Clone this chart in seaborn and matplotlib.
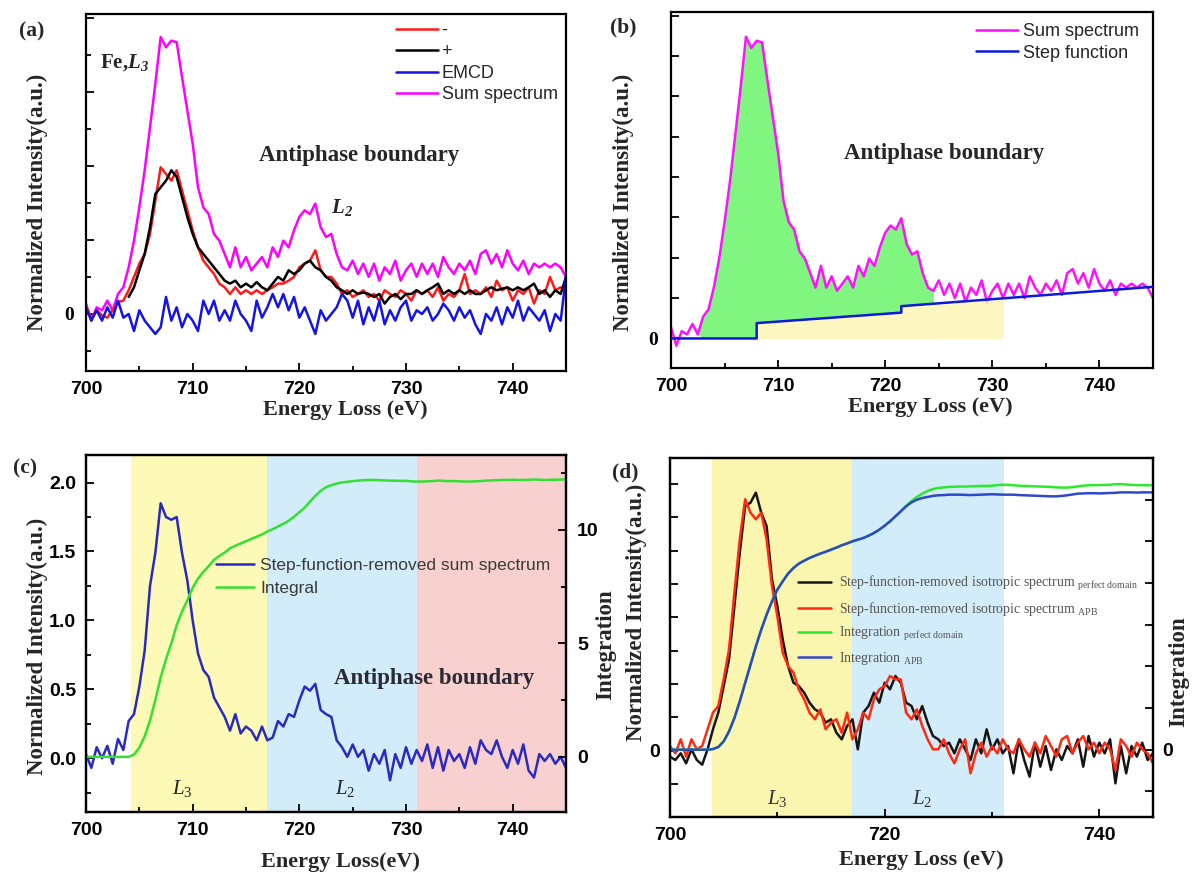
import numpy as np
import matplotlib
matplotlib.use("Agg")
import matplotlib.pyplot as plt
import seaborn as sns
from matplotlib.ticker import MultipleLocator, FuncFormatter
from matplotlib.patches import Rectangle

# ---------------- data ----------------
energy = np.arange(700.0, 745.01, 0.5)

# (a) spectra, normalized intensity (a.u.)
sum_spectrum = [0.14, -0.09, 0.09, 0.05, 0.18, 0.05, 0.27, 0.36, 0.63, 0.99,
                1.44, 1.94, 2.52, 3.11, 3.74, 3.60, 3.69, 3.67, 3.20, 2.75,
                2.30, 1.71, 1.44, 1.35, 1.08, 0.99, 0.81, 0.63, 0.90, 0.63,
                0.77, 0.59, 0.68, 0.77, 0.63, 0.90, 0.77, 0.99, 0.90, 1.13,
                1.31, 1.40, 1.35, 1.49, 1.17, 1.04, 1.08, 0.81, 0.63, 0.59,
                0.72, 0.54, 0.68, 0.50, 0.68, 0.45, 0.63, 0.54, 0.72, 0.45,
                0.59, 0.68, 0.50, 0.68, 0.54, 0.68, 0.50, 0.77, 0.63, 0.54,
                0.68, 0.59, 0.72, 0.54, 0.81, 0.86, 0.68, 0.81, 0.63, 0.86,
                0.68, 0.59, 0.72, 0.54, 0.68, 0.63, 0.68, 0.63, 0.68, 0.63,
                0.50]
minus_spectrum = [0.09, -0.05, 0.05, -0.02, -0.05, 0.05, 0.16, 0.18, 0.32, 0.50,
                  0.68, 0.81, 1.08, 1.53, 1.98, 1.89, 1.80, 1.94, 1.67, 1.40,
                  1.13, 0.90, 0.72, 0.63, 0.54, 0.41, 0.36, 0.27, 0.36, 0.27,
                  0.32, 0.27, 0.32, 0.27, 0.32, 0.36, 0.41, 0.41, 0.45, 0.50,
                  0.63, 0.68, 0.72, 0.86, 0.59, 0.50, 0.50, 0.41, 0.27, 0.32,
                  0.23, 0.27, 0.32, 0.23, 0.27, 0.18, 0.32, 0.27, 0.23, 0.32,
                  0.27, 0.18, 0.32, 0.27, 0.32, 0.23, 0.36, 0.18, 0.27, 0.23,
                  0.32, 0.54, 0.27, 0.32, 0.27, 0.36, 0.23, 0.45, 0.32, 0.36,
                  0.18, 0.32, 0.27, 0.36, 0.14, 0.32, 0.27, 0.50, 0.32, 0.36,
                  0.27]
plus_spectrum = [np.nan, np.nan, np.nan, np.nan, np.nan, np.nan, np.nan, np.nan, 0.23, 0.36,
                 0.59, 0.81, 1.17, 1.62, 1.71, 1.80, 1.94, 1.85, 1.58, 1.31,
                 1.08, 0.90, 0.81, 0.72, 0.63, 0.54, 0.45, 0.41, 0.45, 0.36,
                 0.41, 0.36, 0.43, 0.36, 0.32, 0.41, 0.50, 0.45, 0.59, 0.54,
                 0.59, 0.68, 0.72, 0.63, 0.59, 0.50, 0.45, 0.36, 0.32, 0.27,
                 0.32, 0.27, 0.29, 0.27, 0.23, 0.27, 0.14, 0.23, 0.27, 0.20,
                 0.27, 0.27, 0.32, 0.27, 0.32, 0.36, 0.41, 0.27, 0.32, 0.27,
                 0.32, 0.27, 0.32, 0.27, 0.27, 0.32, 0.36, 0.32, 0.34, 0.36,
                 0.32, 0.36, 0.32, 0.36, 0.41, 0.27, 0.32, 0.23, 0.32, 0.27,
                 0.50]
emcd_spectrum = [0.09, -0.09, 0.05, -0.09, 0.09, -0.05, 0.18, -0.05, 0.00, -0.23,
                 0.05, -0.09, -0.18, -0.27, -0.18, 0.23, -0.09, 0.09, -0.18, 0.00,
                 -0.09, -0.23, 0.18, 0.00, 0.18, -0.09, 0.05, -0.09, 0.18, 0.00,
                 -0.09, -0.23, 0.18, -0.05, 0.09, 0.27, 0.09, 0.27, 0.05, 0.23,
                 -0.05, 0.09, -0.09, -0.27, 0.05, -0.09, 0.00, 0.09, 0.27, 0.18,
                 -0.05, 0.18, -0.14, 0.09, -0.09, 0.18, -0.14, 0.05, -0.09, 0.09,
                 0.18, -0.09, 0.05, 0.00, 0.09, -0.09, 0.00, 0.14, 0.05, -0.09,
                 0.09, -0.05, 0.05, -0.14, -0.27, 0.00, -0.09, 0.09, -0.14, 0.09,
                 -0.05, 0.18, -0.09, 0.09, 0.00, -0.09, 0.05, -0.23, 0.00, -0.09,
                 0.50]

# (b) step function (breakpoints)
step_energy = [700.0, 708.0, 708.0, 721.5, 721.5, 745.0]
step_values = [0.0, 0.0, 0.19, 0.32, 0.40, 0.64]

# (c) step-function-removed sum spectrum and its integral
removed_spectrum = [0.03, -0.07, 0.08, 0.00, 0.09, -0.04, 0.14, 0.06, 0.27, 0.32,
                    0.52, 0.78, 1.25, 1.49, 1.85, 1.75, 1.73, 1.75, 1.49, 1.29,
                    1.00, 0.76, 0.64, 0.59, 0.44, 0.37, 0.30, 0.20, 0.32, 0.18,
                    0.23, 0.20, 0.13, 0.23, 0.13, 0.15, 0.27, 0.23, 0.32, 0.30,
                    0.42, 0.52, 0.49, 0.54, 0.35, 0.32, 0.30, 0.13, 0.08, 0.01,
                    0.10, 0.01, 0.06, -0.09, 0.03, -0.04, 0.06, -0.16, 0.03, -0.07,
                    0.08, -0.04, 0.06, -0.02, 0.10, -0.07, 0.08, -0.09, 0.06, -0.02,
                    0.03, -0.07, 0.08, -0.04, 0.13, 0.06, 0.03, 0.13, 0.01, -0.07,
                    0.06, -0.04, 0.10, -0.09, -0.14, 0.03, -0.02, 0.03, -0.04, 0.01,
                    -0.07]
integral_c = [0, 0, 0, 0, 0, 0, 0, 0, 0, 0.1,
              0.4, 0.9, 1.6, 2.5, 3.5, 4.3, 5.0, 5.8, 6.4, 6.9,
              7.45, 7.85, 8.15, 8.4, 8.68, 8.85, 9.0, 9.19, 9.3, 9.4,
              9.5, 9.6, 9.7, 9.8, 9.93, 10.03, 10.15, 10.27, 10.4, 10.58,
              10.78, 10.98, 11.25, 11.5, 11.72, 11.88, 11.97, 12.04, 12.09, 12.12,
              12.15, 12.17, 12.19, 12.2, 12.2, 12.19, 12.18, 12.17, 12.17, 12.16,
              12.16, 12.14, 12.13, 12.13, 12.14, 12.15, 12.17, 12.16, 12.15, 12.15,
              12.14, 12.13, 12.13, 12.14, 12.15, 12.17, 12.18, 12.19, 12.2, 12.2,
              12.21, 12.2, 12.2, 12.21, 12.22, 12.21, 12.2, 12.21, 12.21, 12.22,
              12.22]

# (d) perfect domain vs APB
iso_perfect = [-0.09, -0.14, -0.04, -0.19, 0.02, -0.14, -0.21, 0.02, 0.32, 0.57,
               0.97, 1.37, 2.17, 2.97, 3.67, 3.72, 3.87, 3.57, 3.37, 2.57,
               2.17, 1.67, 1.27, 1.02, 0.97, 0.87, 0.72, 0.62, 0.57, 0.42,
               0.47, 0.27, 0.17, 0.37, 0.47, 0.02, 0.57, 0.67, 0.87, 0.72,
               1.02, 0.92, 1.12, 1.02, 0.72, 0.67, 0.47, 0.67, 0.42, 0.22,
               0.17, 0.07, 0.12, -0.04, 0.17, 0.02, -0.14, 0.17, -0.04, 0.32,
               0.02, 0.17, -0.04, 0.07, -0.34, 0.17, -0.14, -0.39, 0.12, -0.24,
               0.07, -0.29, 0.02, -0.14, 0.07, -0.04, 0.17, -0.24, 0.22, -0.09,
               0.12, -0.04, 0.17, -0.49, 0.07, -0.34, 0.07, -0.09, 0.12, -0.14,
               -0.04]
iso_apb = [0.07, -0.04, 0.17, -0.09, 0.17, 0.02, 0.07, 0.32, 0.57, 0.67,
           1.07, 1.52, 2.37, 3.17, 3.77, 3.57, 3.47, 3.57, 3.17, 2.47,
           2.02, 1.47, 1.27, 1.17, 0.92, 0.77, 0.57, 0.47, 0.62, 0.32,
           0.42, 0.47, 0.27, 0.57, 0.17, 0.32, 0.57, 0.47, 0.77, 0.92,
           0.97, 1.12, 1.07, 1.07, 0.57, 0.47, 0.62, 0.37, 0.17, 0.02,
           0.02, 0.17, -0.04, -0.19, 0.02, 0.17, -0.34, -0.04, 0.12, -0.09,
           0.07, -0.04, 0.17, 0.02, -0.04, 0.17, 0.02, -0.09, 0.12, -0.04,
           0.22, 0.07, -0.09, 0.17, 0.22, -0.04, 0.12, 0.22, 0.02, 0.12,
           -0.04, 0.12, 0.02, -0.29, 0.17, 0.07, -0.09, 0.12, 0.02, -0.04,
           -0.19]
integ_apb = [0, 0, 0, 0, 0, 0, 0, 0, 0.03, 0.13,
             0.40, 0.88, 1.52, 2.32, 3.20, 4.08, 4.96, 5.76, 6.48, 7.12,
             7.68, 8.08, 8.45, 8.72, 8.93, 9.07, 9.20, 9.31, 9.41, 9.50,
             9.60, 9.70, 9.81, 9.90, 10.00, 10.08, 10.16, 10.27, 10.40, 10.56,
             10.75, 10.96, 11.20, 11.44, 11.68, 11.87, 12.00, 12.08, 12.13, 12.18,
             12.21, 12.22, 12.24, 12.24, 12.24, 12.23, 12.22, 12.23, 12.24, 12.25,
             12.26, 12.25, 12.24, 12.24, 12.24, 12.22, 12.21, 12.20, 12.19, 12.18,
             12.17, 12.16, 12.16, 12.18, 12.21, 12.25, 12.29, 12.30, 12.31, 12.31,
             12.30, 12.31, 12.32, 12.33, 12.35, 12.35, 12.35, 12.34, 12.35, 12.35,
             12.35]
integ_perfect = [0, 0, 0, 0, 0, 0, 0, 0, 0.03, 0.13,
                 0.40, 0.88, 1.52, 2.32, 3.20, 4.08, 4.96, 5.76, 6.48, 7.12,
                 7.68, 8.08, 8.45, 8.72, 8.93, 9.07, 9.20, 9.31, 9.41, 9.50,
                 9.60, 9.70, 9.81, 9.90, 10.00, 10.08, 10.16, 10.27, 10.40, 10.56,
                 10.75, 10.96, 11.20, 11.44, 11.71, 11.94, 12.13, 12.29, 12.42, 12.51,
                 12.56, 12.59, 12.61, 12.62, 12.63, 12.63, 12.64, 12.65, 12.66, 12.66,
                 12.67, 12.70, 12.72, 12.71, 12.69, 12.67, 12.66, 12.65, 12.64, 12.63,
                 12.62, 12.61, 12.59, 12.58, 12.58, 12.60, 12.64, 12.67, 12.69, 12.70,
                 12.70, 12.71, 12.72, 12.74, 12.75, 12.73, 12.71, 12.70, 12.70, 12.69,
                 12.69]

# energy windows used for the shading
l3_window_c = [704.2, 717.0]
l2_window_c = [717.0, 731.0]
tail_window_c = [731.0, 745.0]
l3_window_d = [703.9, 717.0]
l2_window_d = [717.0, 731.1]
green_window_b = [703.0, 724.5]
yellow_window_b = [708.0, 731.0]

# ---------------- style ----------------
sns.set_style("ticks")
plt.rcParams['font.family'] = ['Liberation Sans', 'DejaVu Sans']
plt.rcParams['font.weight'] = 'bold'
plt.rcParams['mathtext.fontset'] = 'custom'
plt.rcParams['mathtext.rm'] = 'Liberation Serif:normal'
plt.rcParams['mathtext.it'] = 'Liberation Serif:italic:normal'
plt.rcParams['mathtext.bf'] = 'Liberation Serif:bold'
plt.rcParams['mathtext.bfit'] = 'Liberation Serif:italic:bold'
SERIF = ['Liberation Serif', 'DejaVu Serif']
LW = 1.8

energy = np.asarray(energy)
sum_arr = np.asarray(sum_spectrum, dtype=float)

W, H = 1192, 872
fig = plt.figure(figsize=(W / 100, H / 100), dpi=100)


def rect(l, t, r, b):
    return [l / W, 1 - b / H, (r - l) / W, (b - t) / H]


ax_a = fig.add_axes(rect(86, 14, 566, 371))
ax_b = fig.add_axes(rect(671, 11.7, 1153, 368.3))
ax_c = fig.add_axes(rect(86, 455, 566, 812))
ax_d = fig.add_axes(rect(670, 458, 1153, 817))

zero_only = FuncFormatter(lambda v, p: '0' if abs(v) < 1e-9 else '')


def frame(ax, xmaj, xmin):
    for s in ax.spines.values():
        s.set_visible(True)
        s.set_linewidth(1.6)
        s.set_color('black')
    ax.set_xlim(700, 745)
    ax.xaxis.set_major_locator(MultipleLocator(xmaj))
    ax.xaxis.set_minor_locator(MultipleLocator(xmin))
    ax.tick_params(which='both', direction='in', width=1.3, colors='black')
    ax.tick_params(which='major', length=6, labelsize=14, pad=7)
    ax.tick_params(which='minor', length=3.5)


def line(ax, y, color, label=None, lw=LW, x=None, z=2):
    sns.lineplot(x=energy if x is None else x, y=y, ax=ax, color=color, lw=lw,
                 label=label, estimator=None, sort=False, zorder=z)


def ylab(ax, text, x, y, size=16.5):
    ax.set_ylabel(text, family=SERIF, fontweight='bold', fontsize=size)
    ax.yaxis.set_label_coords(x, y)


def xlab(ax, text, x, y):
    ax.set_xlabel(text, family=SERIF, fontweight='bold', fontsize=16)
    ax.xaxis.set_label_coords(x, y)


# ---------------- (a) ----------------
line(ax_a, sum_spectrum, '#FF00FF', 'Sum spectrum')
line(ax_a, minus_spectrum, '#FF1A1A', '-')
line(ax_a, plus_spectrum, '#000000', '+')
line(ax_a, emcd_spectrum, '#1414E6', 'EMCD')
frame(ax_a, 10, 5)
ax_a.set_ylim(-0.77, 4.05)
ax_a.yaxis.set_major_locator(MultipleLocator(1))
ax_a.yaxis.set_minor_locator(MultipleLocator(0.5))
ax_a.yaxis.set_major_formatter(zero_only)
ax_a.tick_params(axis='y', labelfontfamily='Liberation Serif', pad=9)
h, l = ax_a.get_legend_handles_labels()
order = [l.index(k) for k in ['-', '+', 'EMCD', 'Sum spectrum']]
ax_a.legend([h[i] for i in order], [l[i] for i in order], loc='upper left',
            bbox_to_anchor=(0.646, 0.978), frameon=False, borderpad=0, borderaxespad=0,
            handlelength=2.3, handletextpad=0.22, labelspacing=0.25,
            prop={'family': 'Liberation Sans', 'weight': 'normal', 'size': 13})
ax_a.text(701.3, 3.40, r'Fe,$\mathbfit{L}_{\mathbfit{3}}$', family=SERIF, fontweight='bold',
          fontsize=15, ha='left', va='center')
ax_a.text(725.6, 2.14, 'Antiphase boundary', family=SERIF, fontweight='bold', fontsize=16.5,
          ha='center', va='center')
ax_a.text(723.0, 1.44, r'$\mathbfit{L}_{\mathbfit{2}}$', fontsize=15, ha='left', va='center')
ylab(ax_a, 'Normalized Intensity(a.u.)', -0.079, 0.473)
xlab(ax_a, 'Energy Loss (eV)', 0.54, -0.08)

# ---------------- (b) ----------------
gmask = (energy >= green_window_b[0]) & (energy <= green_window_b[1]) & (sum_arr > 0)
ax_b.fill_between(energy, sum_arr, 0, where=gmask, interpolate=True, color='#80F580', lw=0, zorder=1)
yfill = ax_b.fill_between(step_energy, 0, step_values, color='#FFF7C2', lw=0, zorder=1.5)
yfill.set_clip_path(Rectangle((yellow_window_b[0], -5), yellow_window_b[1] - yellow_window_b[0], 20,
                              transform=ax_b.transData))
line(ax_b, sum_spectrum, '#FF10FF', 'Sum spectrum', z=2)
yfill2 = ax_b.fill_between(step_energy, 0, step_values, color='#FFF7C2', alpha=0.7, lw=0, zorder=2.5)
yfill2.set_clip_path(Rectangle((725.8, -5), yellow_window_b[1] - 725.8, 20, transform=ax_b.transData))
line(ax_b, step_values, '#0A1AD8', 'Step function', x=step_energy, z=3)
frame(ax_b, 10, 5)
ax_b.set_ylim(-0.37, 4.05)
ax_b.yaxis.set_major_locator(MultipleLocator(0.5))
ax_b.yaxis.set_major_formatter(zero_only)
ax_b.tick_params(axis='y', labelfontfamily='Liberation Serif', pad=9)
ax_b.legend(loc='upper left', bbox_to_anchor=(0.633, 0.968), frameon=False, borderpad=0,
            borderaxespad=0, handlelength=2.3, handletextpad=0.3, labelspacing=0.25,
            prop={'family': 'Liberation Sans', 'weight': 'normal', 'size': 13})
ax_b.text(725.5, 2.29, 'Antiphase boundary', family=SERIF, fontweight='bold', fontsize=16.5,
          ha='center', va='center')
ylab(ax_b, 'Normalized Intensity(a.u.)', -0.077, 0.466)
xlab(ax_b, 'Energy Loss (eV)', 0.537, -0.08)

# ---------------- (c) ----------------
ax_c.axvspan(*l3_window_c, color='#FDF9B6', lw=0, zorder=0)
ax_c.axvspan(*l2_window_c, color='#D3ECFA', lw=0, zorder=0)
ax_c.axvspan(*tail_window_c, color='#F9D0D0', lw=0, zorder=0)
line(ax_c, removed_spectrum, '#2A2AC0', 'Step-function-removed sum spectrum')
ax_c2 = ax_c.twinx()
line(ax_c2, integral_c, '#33E033', 'Integral')
frame(ax_c, 10, 5)
frame(ax_c2, 10, 5)
ax_c.set_ylim(-0.39, 2.2)
ax_c.yaxis.set_major_locator(MultipleLocator(0.5))
ax_c.yaxis.set_minor_locator(MultipleLocator(0.25))
ax_c.yaxis.set_major_formatter(FuncFormatter(lambda v, p: f'{v:.1f}'))
ax_c2.set_ylim(-2.43, 13.3)
ax_c2.yaxis.set_major_locator(MultipleLocator(5))
ax_c2.yaxis.set_minor_locator(MultipleLocator(2.5))
ax_c2.tick_params(axis='y', pad=8)
if ax_c.get_legend():
    ax_c.get_legend().remove()
h1, l1 = ax_c.get_legend_handles_labels()
h2, l2 = ax_c2.get_legend_handles_labels()
ax_c2.legend(h1 + h2, l1 + l2, loc='upper left', bbox_to_anchor=(0.271, 0.712), frameon=False,
             borderpad=0, borderaxespad=0, handlelength=2.2, handletextpad=0.35, labelspacing=0.45,
             prop={'family': 'Liberation Sans', 'weight': 'normal', 'size': 12.5}, labelcolor='#3a3a3a')
ax_c.text(732.6, 0.578, 'Antiphase boundary', family=SERIF, fontweight='bold', fontsize=16.5,
          ha='center', va='center', color='#2a2a35')
ax_c.text(709.0, -0.22, r'$\mathit{L}_{3}$', fontsize=15, fontweight='normal', ha='center',
          va='center', color='#222222')
ax_c.text(724.3, -0.22, r'$\mathit{L}_{2}$', fontsize=15, fontweight='normal', ha='center',
          va='center', color='#222222')
ylab(ax_c, 'Normalized Intensity(a.u.)', -0.079, 0.465)
xlab(ax_c, 'Energy Loss(eV)', 0.531, -0.112)
ax_c2.set_ylabel('Integration', family=SERIF, fontweight='bold', fontsize=16.5)
ax_c2.yaxis.set_label_coords(1.060, 0.468)
ax_c2.set_xlabel('')

# ---------------- (d) ----------------
ax_d.axvspan(*l3_window_d, color='#FAF6B0', lw=0, zorder=0)
ax_d.axvspan(*l2_window_d, color='#D3ECFA', lw=0, zorder=0)
line(ax_d, iso_perfect, '#151515', r'Step-function-removed isotropic spectrum $_{\mathrm{perfect\ domain}}$')
line(ax_d, iso_apb, '#FF2A10', r'Step-function-removed isotropic spectrum $_{\mathrm{APB}}$')
ax_d2 = ax_d.twinx()
line(ax_d2, integ_perfect, '#2EE82E', r'Integration $_{\mathrm{perfect\ domain}}$')
line(ax_d2, integ_apb, '#2F48C8', r'Integration $_{\mathrm{APB}}$')
frame(ax_d, 20, 10)
frame(ax_d2, 20, 10)
ax_d.set_ylim(-0.995, 4.39)
ax_d.yaxis.set_major_locator(MultipleLocator(0.5))
ax_d.yaxis.set_major_formatter(zero_only)
ax_d2.set_ylim(-3.23, 14.0)
ax_d2.yaxis.set_major_locator(MultipleLocator(2))
ax_d2.yaxis.set_major_formatter(zero_only)
if ax_d.get_legend():
    ax_d.get_legend().remove()
h1, l1 = ax_d.get_legend_handles_labels()
h2, l2 = ax_d2.get_legend_handles_labels()
ax_d2.legend(h1 + h2, l1 + l2, loc='upper left', bbox_to_anchor=(0.265, 0.677), frameon=False,
             borderpad=0, borderaxespad=0, handlelength=2.4, handletextpad=0.58, labelspacing=0.5,
             prop={'family': 'Liberation Serif', 'weight': 'normal', 'size': 10}, labelcolor='#555555')
ax_d.text(710.0, -0.71, r'$\mathit{L}_{3}$', fontsize=15, fontweight='normal', ha='center',
          va='center', color='#333333')
ax_d.text(723.5, -0.71, r'$\mathit{L}_{2}$', fontsize=15, fontweight='normal', ha='center',
          va='center', color='#333333')
ylab(ax_d, 'Normalized Intensity(a.u.)', -0.048, 0.571)
xlab(ax_d, 'Energy Loss (eV)', 0.52, -0.092)
ax_d2.set_ylabel('Integration', family=SERIF, fontweight='bold', fontsize=16.5)
ax_d2.yaxis.set_label_coords(1.031, 0.404)
ax_d2.set_xlabel('')

# panel letters
for txt, x, y in [('(a)', 32, 31), ('(b)', 623, 27), ('(c)', 25, 468), ('(d)', 625, 472)]:
    fig.text(x / W, 1 - y / H, txt, family=SERIF, fontweight='bold', fontsize=15.5,
             ha='center', va='center')

fig.savefig('out.png', dpi=100)
